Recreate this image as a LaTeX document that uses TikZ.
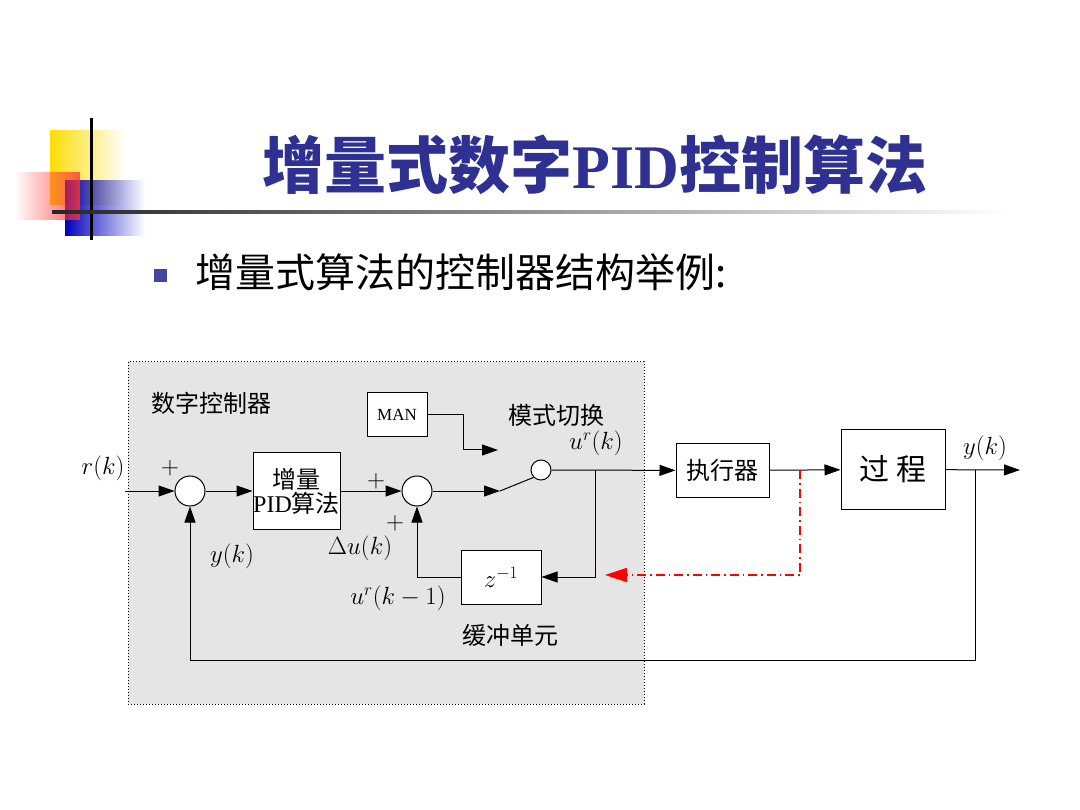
\documentclass[tikz,border=0pt]{standalone}
\usepackage{fontspec}
\newfontfamily\cjk{Noto Sans CJK SC}
\newfontfamily\tms{Liberation Serif}
\usetikzlibrary{arrows.meta,fadings}
\definecolor{titleblue}{RGB}{46,49,146}
\tikzset{every picture/.style={line width=1pt},
  blk/.style={draw,fill=white,minimum width=#1,minimum height=54pt,inner sep=0pt},
  sumpt/.style={draw,fill=white,circle,minimum size=30pt,inner sep=0pt},
  sig/.style={-{Triangle[length=16pt,width=11pt]}},
  lbl/.style={font=\fontsize{24}{26}\selectfont}}

\begin{document}
\begin{tikzpicture}[x=1pt,y=1pt,yscale=-1]
\useasboundingbox (0,0) rectangle (1080,810);
\fill[white] (0,0) rectangle (1080,810);

%decoration
\fill[yellow!80!orange,path fading=east] (50,130) rectangle (125,205);
\fill[blue!75!black,path fading=east] (65,180) rectangle (145,236);
\fill[red!80,path fading=west,opacity=0.8] (15,172) rectangle (80,220);
\draw[line width=3pt] (91,118) -- (91,240);
\shade[left color=black!85,right color=white] (52,210.5) rectangle (1010,214);

%title
\node[anchor=center,text=titleblue] (title) at (595,165)
  {\fontsize{62}{66}\selectfont\bfseries\cjk 增量式数字\tms\bfseries PID\cjk 控制算法};
\fill[titleblue!90] (154,269) rectangle (167,282);
\node[anchor=west] (sub) at (192,272) {\fontsize{40}{44}\selectfont\cjk 增量式算法的控制器结构举例:};

%controller area
\draw[dotted,fill=black!10] (128,362) rectangle (644,704);
\node[lbl,anchor=west] (ctl) at (148,403) {\cjk 数字控制器};

\node[sumpt] (s1) at (190,491) {};
\node[blk=87pt,minimum height=77pt,align=center,lbl] (pid) at (296.5,491)
  {\cjk 增量\\[-2pt]\tms PID\cjk 算法};
\node[sumpt] (s2) at (417,491) {};
\node[blk=60pt,minimum height=44pt,font=\fontsize{17}{18}\selectfont\tms] (man) at (397,415) {MAN};
\node[draw,fill=white,circle,minimum size=20pt,inner sep=0pt] (sw) at (541,470) {};
\coordinate (c0) at (500,491);
\node[blk=80pt] (z) at (501,577) {\fontsize{26}{28}\selectfont$z^{-1}$};
\node[blk=93pt,lbl] (act) at (722.5,470.5) {\cjk 执行器};
\node[blk=104pt,minimum height=79pt,font=\fontsize{30}{32}\selectfont] (proc) at (893,469.5) {\cjk 过\ 程};

\coordinate (rin) at (125,491);
\coordinate (br) at (595,470);
\coordinate (yb) at (975,470);
\coordinate (yout) at (1020,470);
\coordinate (rd) at (800,470);

\draw[sig] (rin) -- (s1);
\draw[sig] (s1) -- (pid);
\draw[sig] (pid) -- (s2);
\draw[sig] (s2) -- (c0);
\draw (c0) -- (sw.south west);
\draw[sig] (man.east) -- (463,415) |- (498,450);
\draw[sig] (sw) -- (act);
\draw[sig] (br) |- (z.east);
\draw[sig] (z.west) -| (s2.south);
\draw[sig] (act) -- (proc);
\draw[sig] (proc) -- (yout);
\draw[sig] (yb) |- (190,660) -- (s1.south);
\draw[red,line width=1.6pt,dash pattern=on 9pt off 4pt on 1.5pt off 4pt,-{Triangle[length=22pt,width=14pt]}] (rd) |- (605,575);

%labels
\node[lbl] (lr) at (103,468) {$r(k)$};
\node[lbl] (p1) at (170,468) {$+$};
\node[lbl] (p2) at (376,481) {$+$};
\node[lbl] (p3) at (395,523) {$+$};
\node[lbl] (ld) at (360,548) {$\Delta u(k)$};
\node[lbl] (ly) at (232,556) {$y(k)$};
\node[lbl] (mode) at (556,415) {\cjk 模式切换};
\node[lbl] (lu) at (596,443) {$u^r(k)$};
\node[lbl] (lu1) at (398,598) {$u^r(k-1)$};
\node[lbl] (buf) at (510,635) {\cjk 缓冲单元};
\node[lbl] (lyo) at (985,448) {$y(k)$};
\end{tikzpicture}
\end{document}
